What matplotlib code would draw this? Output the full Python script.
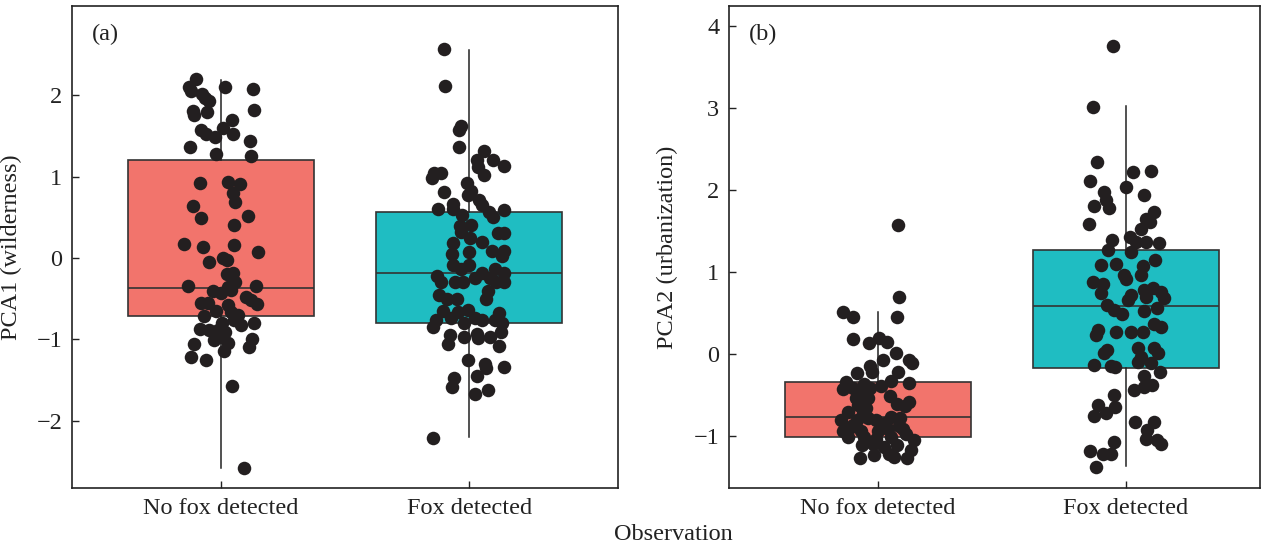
import matplotlib
matplotlib.use("Agg")
import matplotlib.pyplot as plt

# ---------------- data ----------------
categories = ["No fox detected", "Fox detected"]
panel_labels = ["(a)", "(b)"]
ylabels = ["PCA1 (wilderness)", "PCA2 (urbanization)"]
xlabel = "Observation"

# box statistics: [whislo, q1, median, q3, whishi]
a_nofox_box = [-2.58, -0.71, -0.37, 1.21, 2.19]
a_fox_box = [-2.20, -0.80, -0.19, 0.57, 2.56]
b_nofox_box = [-1.27, -1.01, -0.76, -0.345, 0.51]
b_fox_box = [-1.36, -0.17, 0.59, 1.27, 3.02]

# panel (a), no fox detected
a_nofox_y = [2.20, 2.10, 2.05, 2.10, 2.08, 2.02, 1.97, 1.93, 1.81, 1.76, 1.80, 1.82, 1.70, 1.60, 1.57,
             1.53, 1.49, 1.53, 1.44, 1.36, 1.28, 1.26,
             0.92, 0.93, 0.91, 0.80, 0.69, 0.64, 0.49, 0.52, 0.41, 0.17, 0.13, 0.16, 0.07, -0.05, 0.00, -0.02,
             -0.20, -0.18, -0.30, -0.34, -0.34, -0.36, -0.41, -0.43, -0.39, -0.48, -0.52, -0.57, -0.55, -0.56,
             -0.65, -0.58, -0.66, -0.71, -0.70, -0.76, -0.82, -0.80, -0.80, -0.87, -0.89, -0.89, -0.91, -1.01,
             -0.97, -1.05, -1.06, -1.00, -1.09, -1.14, -1.22, -1.26, -1.58, -2.58]
a_nofox_jit = [-0.10, -0.13, -0.12, 0.015, 0.13, -0.077, -0.063, -0.05, -0.113, -0.109, -0.058, 0.132, 0.044,
               0.008, -0.082, -0.059, -0.023, 0.050, 0.116, -0.125, -0.021, 0.12,
               -0.085, 0.028, 0.078, 0.048, 0.058, -0.112, -0.079, 0.109, 0.054, -0.148, -0.071, 0.052, 0.148,
               -0.048, 0.008, 0.026,
               0.026, 0.048, 0.055, -0.133, 0.141, 0.028, -0.032, 0.001, 0.042, 0.102, 0.122, 0.146, -0.082,
               -0.052, -0.019, 0.028, 0.042, -0.069, 0.069, 0.052, 0.082, 0.133, 0.005, -0.086, -0.046, -0.012,
               0.015, -0.028, 0.001, 0.028, -0.110, 0.125, 0.112, 0.012, -0.122, -0.062, 0.046, 0.095]

# panel (a), fox detected
a_fox_y = [2.57, 2.11, 1.62, 1.58, 1.37, 1.32, 1.21, 1.20, 1.12, 1.13, 1.05, 1.04, 0.98, 1.02, 0.92, 0.81,
           0.78, 0.83, 0.71, 0.67, 0.65, 0.60, 0.60, 0.53, 0.57, 0.50, 0.59, 0.41, 0.39,
           0.32, 0.25, 0.20, 0.31, 0.31, 0.18, 0.05, 0.07, 0.09, 0.08, 0.02, -0.09, -0.13, -0.09, -0.18, -0.13,
           -0.18, -0.22, -0.29, -0.29, -0.29, -0.25, -0.25, -0.30, -0.29, -0.41, -0.50, -0.46, -0.50, -0.50,
           -0.65, -0.66, -0.64, -0.68, -0.76, -0.74, -0.80, -0.74, -0.76, -0.76, -0.80, -0.85, -0.95, -1.06,
           -0.97, -0.93, -0.99, -0.97, -0.91, -1.08, -1.25, -1.30, -1.35, -1.34, -1.45, -1.48, -1.59, -1.67,
           -1.62, -2.21]
a_fox_jit = [-0.102, -0.098, -0.031, -0.039, -0.040, 0.060, 0.031, 0.098, 0.036, 0.142, -0.141, -0.112,
             -0.148, 0.060, -0.007, -0.101, -0.004, 0.009, 0.039, -0.065, 0.050, -0.124, -0.065, -0.027, 0.081,
             0.097, 0.140, 0.007, -0.036,
             -0.031, 0.003, 0.050, 0.117, 0.141, -0.065, -0.069, -0.001, 0.093, 0.141, 0.133, -0.065, -0.034,
             -0.001, 0.050, 0.104, 0.141, -0.128, -0.114, -0.055, -0.024, 0.023, 0.083, 0.110, 0.141, 0.077,
             0.070, -0.122, -0.091, -0.047, -0.105, -0.044, -0.004, 0.121, -0.132, -0.071, -0.020, 0.025, 0.050,
             0.104, 0.133, -0.145, -0.078, -0.085, -0.020, 0.030, 0.036, 0.083, 0.130, 0.120, -0.004, 0.063,
             0.070, 0.141, 0.031, -0.060, -0.069, 0.023, 0.077, -0.144]

# panel (b), no fox detected
b_nofox_y = [1.57, 0.69, 0.51, 0.45, 0.45,
             0.19, 0.13, 0.20, 0.15, 0.01, -0.07, -0.07, -0.11, -0.15, -0.22, -0.23, -0.22, -0.34, -0.42, -0.41,
             -0.36, -0.41, -0.39, -0.33, -0.35, -0.51, -0.46, -0.54, -0.54, -0.62, -0.66, -0.61, -0.58, -0.63,
             -0.80, -0.80, -0.78, -0.80, -0.77, -0.78, -0.93, -0.89, -0.93, -0.93, -0.91, -0.91, -1.01, -1.01,
             -1.03, -1.01, -0.97, -1.05, -1.11, -1.09, -1.13, -1.11, -1.17, -1.26, -1.23, -1.22, -1.25, -1.26,
             -0.70, -0.88, -0.86, -0.84, -0.72]
b_nofox_jit = [0.081, 0.087, -0.141, -0.102, 0.077,
               -0.102, -0.035, 0.005, 0.036, 0.074, 0.019, 0.126, 0.136, -0.031, -0.025, -0.086, 0.082, -0.129,
               -0.142, -0.102, -0.055, -0.031, 0.012, 0.052, 0.126, 0.050, -0.069, -0.089, -0.039, -0.082, -0.048,
               0.079, 0.126, 0.109, -0.149, -0.085, -0.039, -0.008, 0.052, 0.090, -0.142, -0.109, -0.069, -0.001,
               0.039, 0.100, -0.122, -0.055, -0.008, 0.052, 0.113, 0.146, -0.062, -0.021, 0.025, 0.079, 0.133,
               -0.071, -0.015, 0.046, 0.063, 0.117,
               -0.120, 0.085, -0.100, 0.030, -0.060]

# panel (b), fox detected
b_fox_y = [3.75, 3.01, 2.34, 2.22, 2.23, 2.11, 2.04, 1.97, 1.88, 1.94, 1.80, 1.78, 1.73, 1.64, 1.61, 1.52,
           1.59, 1.39, 1.43, 1.37, 1.37, 1.35,
           1.27, 1.24, 1.15, 1.09, 1.10, 1.07, 0.96, 0.92, 0.96, 0.88, 0.86, 0.75, 0.72, 0.66, 0.78, 0.81, 0.76,
           0.68, 0.70, 0.60, 0.54, 0.49, 0.53, 0.56, 0.37, 0.33, 0.30, 0.23, 0.27, 0.27, 0.27, 0.05, 0.02, 0.07,
           0.07, 0.02, -0.03, -0.09, -0.11, -0.13, -0.15, -0.16, -0.22, -0.26, -0.38, -0.40, -0.44, -0.50,
           -0.62, -0.64, -0.72, -0.75, -0.83, -0.83, -0.92, -1.03, -1.05, -1.09, -1.07, -1.18, -1.21, -1.21,
           -1.37]
b_fox_jit = [-0.052, -0.133, -0.117, 0.029, 0.100, -0.146, 0.001, -0.087, -0.079, 0.071, -0.130, -0.070,
             0.114, 0.081, 0.098, 0.060, -0.150, -0.058, 0.017, 0.040, 0.081, 0.134,
             -0.071, 0.020, 0.117, -0.101, -0.040, 0.067, -0.007, 0.000, 0.060, -0.134, -0.094, -0.101, 0.020,
             0.007, 0.074, 0.108, 0.141, 0.152, 0.081, -0.077, -0.050, -0.017, 0.071, 0.125, 0.114, 0.141,
             -0.114, -0.121, -0.040, 0.020, 0.067, -0.077, -0.090, 0.047, 0.114, 0.128, 0.060, 0.047, 0.101,
             -0.128, -0.060, -0.044, 0.138, 0.071, 0.104, 0.074, 0.034, -0.047, -0.112, -0.044, -0.081, -0.130,
             0.036, 0.112, 0.085, 0.081, 0.125, 0.141, -0.047, -0.144, -0.094, -0.060, -0.120]

a_yticks = [-2, -1, 0, 1, 2]
b_yticks = [-1, 0, 1, 2, 3, 4]

# ---------------- style ----------------
plt.rcParams["font.family"] = ["Liberation Serif", "DejaVu Serif"]
plt.rcParams["axes.unicode_minus"] = True
box_colors = ["#F2746C", "#1FBDC2"]
edge_col = "#333333"
pt_col = "#231F20"
FS = 17.5

fig = plt.figure(figsize=(12.71, 5.45), dpi=100)
W, H = 1271, 545


def make_axes(left_px, right_px):
    return fig.add_axes([left_px / W, 1 - 488 / H, (right_px - left_px) / W, (488 - 6) / H])


ax_a = make_axes(72, 618)
ax_b = make_axes(729, 1260)

panels = [
    (ax_a, [a_nofox_box, a_fox_box], [(a_nofox_jit, a_nofox_y), (a_fox_jit, a_fox_y)],
     (-2.83, 3.10), a_yticks, (-0.6, 1.6)),
    (ax_b, [b_nofox_box, b_fox_box], [(b_nofox_jit, b_nofox_y), (b_fox_jit, b_fox_y)],
     (-1.63, 4.24), b_yticks, (-0.6, 1.54)),
]

for i, (ax, boxes, pts, ylim, yt, xlim) in enumerate(panels):
    stats = []
    for b in boxes:
        stats.append(dict(whislo=b[0], q1=b[1], med=b[2], q3=b[3], whishi=b[4], fliers=[]))
    bp = ax.bxp(stats, positions=[0, 1], widths=0.75, patch_artist=True, showfliers=False,
                showcaps=False,
                boxprops=dict(linewidth=1.2, edgecolor=edge_col),
                medianprops=dict(color=edge_col, linewidth=1.2),
                whiskerprops=dict(color="#222222", linewidth=1.1))
    for patch, c in zip(bp["boxes"], box_colors):
        patch.set_facecolor(c)
    for k, (jit, ys) in enumerate(pts):
        n = min(len(jit), len(ys))
        ax.scatter([k + j for j in jit[:n]], ys[:n], s=95, color=pt_col, zorder=5, linewidths=0)
    ax.set_xlim(*xlim)
    ax.set_ylim(*ylim)
    ax.set_yticks(yt)
    ax.set_xticks([0, 1])
    ax.set_xticklabels(categories)
    ax.tick_params(direction="in", length=5, width=1.0, labelsize=FS, pad=7, colors="#222222",
                   labelcolor="#222222")
    for s in ax.spines.values():
        s.set_linewidth(1.2)
        s.set_color("#222222")
    ax.set_ylabel(ylabels[i], fontsize=FS, color="#222222")
    ax.text(0.037 if i == 0 else 0.038, 0.94, panel_labels[i], transform=ax.transAxes,
            fontsize=FS, va="center", ha="left", color="#222222")

ax_a.yaxis.set_label_coords((22 - 72) / 546, 0.5)
ax_b.yaxis.set_label_coords((678 - 729) / 531, 0.5)

fig.text(673 / W, 1 - 535 / H, xlabel, ha="center", va="center", fontsize=FS, color="#222222")

fig.savefig("out.png", dpi=100)
